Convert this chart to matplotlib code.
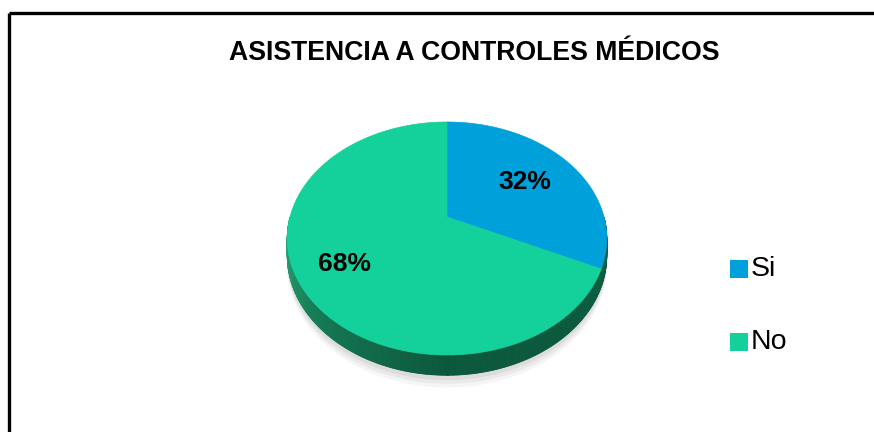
import numpy as np
import matplotlib.pyplot as plt
from matplotlib.colors import LinearSegmentedColormap
from matplotlib.patches import Polygon

title = "ASISTENCIA A CONTROLES MÉDICOS"
labels = ["Si", "No"]
values = [32, 68]
top_colors = ["#00a0db", "#14d19b"]

plt.rcParams["font.family"] = ["Liberation Sans", "DejaVu Sans"]

fig = plt.figure(figsize=(8.74, 4.32), dpi=100)
ax = fig.add_axes([0, 0, 1, 1])
ax.set_xlim(0, 874)
ax.set_ylim(432, 0)
ax.axis("off")

# perspective pie: centre, radius and tilt in pixels
cx, cy0, R = 447, 217, 157
B, C = 72.5, -0.1845
depth = 16.5


def proj(theta, r=1.0, drop=0.0):
    th = np.radians(theta)
    u = r * np.cos(th)
    v = -r * np.sin(th)
    den = 1 + C * v
    return cx + R * u / den, (cy0 + B * v + drop) / den


# shadow under the pie
for k, a in zip([10, 7, 4], [0.08, 0.1, 0.12]):
    t = np.linspace(180, 360, 200)
    x, y = proj(t, drop=depth + k)
    x2, y2 = proj(t[::-1], drop=depth - 8)
    ax.add_patch(Polygon(np.column_stack([np.r_[x, x2], np.r_[y, y2]]),
                         closed=True, color="#808080", alpha=a, lw=0, zorder=1))

fracs = np.array(values) / sum(values)
starts = 90 - 360 * np.r_[0, np.cumsum(fracs)[:-1]]
ends = starts - 360 * fracs

# side band (front half), shaded by angle
side_cmap = LinearSegmentedColormap.from_list(
    "gs", [(0, "#33ab7c"), (0.25, "#157a55"), (0.5, "#0b573c"), (1, "#0d5f41")])
ts = np.linspace(180, 360, 500)
for t0, t1 in zip(ts[:-1], ts[1:]):
    f = ((t0 + t1) / 2 - 180) / 180
    col = side_cmap(f)
    xa, ya = proj(np.array([t0, t1]))
    xb, yb = proj(np.array([t1, t0]), drop=depth)
    ax.add_patch(Polygon(np.column_stack([np.r_[xa, xb], np.r_[ya, yb]]),
                         closed=True, facecolor=col, edgecolor=col,
                         lw=0.6, zorder=2))

# top face
for i in range(len(values)):
    t = np.linspace(starts[i], ends[i], 300)
    x, y = proj(t)
    px, py = proj(0, r=0)
    ax.add_patch(Polygon(np.column_stack([np.r_[px, x], np.r_[py, y]]),
                         closed=True, facecolor=top_colors[i],
                         edgecolor=top_colors[i], lw=0.5, zorder=3))

# percentage labels
label_r = [0.62, 0.72]
for i in range(len(values)):
    mid = (starts[i] + ends[i]) / 2
    lx, ly = proj(mid, r=label_r[i])
    ax.text(lx, ly, f"{values[i]}%", ha="center", va="center",
            fontsize=19, fontweight="bold", color="black", zorder=5)

# title
ax.text(474, 53, title, ha="center", va="center", fontsize=19.2,
        fontweight="bold", color="black")

# legend
leg_y = [269, 342]
for i in range(len(labels)):
    ax.scatter([739], [leg_y[i]], marker="s", s=150, color=top_colors[i],
               linewidths=0, zorder=5)
    ax.text(751, leg_y[i], labels[i], ha="left", va="center", fontsize=20.5,
            color="black")

# frame: top and left edges only
ax.plot([8.5, 874], [12.5, 12.5], color="black", lw=2.4, solid_capstyle="butt")
ax.plot([8.5, 8.5], [12.5, 432], color="black", lw=2.4, solid_capstyle="butt")

fig.savefig("out.png", dpi=100)
